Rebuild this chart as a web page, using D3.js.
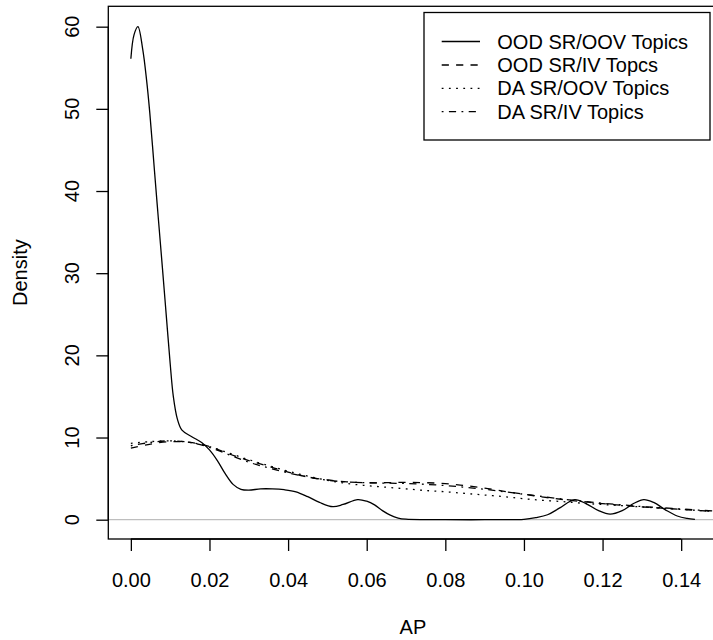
<!DOCTYPE html>
<html>
<head>
<meta charset="utf-8">
<script src="https://cdn.jsdelivr.net/npm/d3@7"></script>
<style>
html,body{margin:0;padding:0;background:#fff;}
svg{display:block;}
text{font-family:"Liberation Sans",Arial,Helvetica,sans-serif;fill:#000;}
</style>
</head>
<body>
<svg id="chart" width="713" height="640"></svg>
<script>
// ---- data ----
const xTicks = [0, 0.02, 0.04, 0.06, 0.08, 0.10, 0.12, 0.14];
const xTickLabels = ["0.00","0.02","0.04","0.06","0.08","0.10","0.12","0.14"];
const yTicks = [0, 10, 20, 30, 40, 50, 60];
const yTickLabels = ["0","10","20","30","40","50","60"];

const seriesNames = ["OOD SR/OOV Topics", "OOD SR/IV Topcs", "DA SR/OOV Topics", "DA SR/IV Topics"];

const oodOovX = [0, 0.0008, 0.0018, 0.003, 0.004, 0.0048, 0.006, 0.007, 0.008, 0.009, 0.010, 0.0108, 0.0118, 0.013, 0.0155, 0.018, 0.020, 0.022, 0.024, 0.026, 0.028, 0.030, 0.033, 0.036, 0.039, 0.042, 0.045, 0.048, 0.0514, 0.054, 0.0577, 0.060, 0.062, 0.064, 0.066, 0.068, 0.070, 0.075, 0.080, 0.090, 0.100, 0.103, 0.106, 0.109, 0.1129, 0.116, 0.119, 0.1219, 0.125, 0.128, 0.1305, 0.133, 0.136, 0.139, 0.1415, 0.1435];
const oodOovY = [56.1, 59.0, 60.0, 57.3, 53.5, 49.6, 42.5, 36.6, 30.8, 24.9, 19.0, 15.0, 12.3, 10.9, 10.1, 9.4, 8.5, 7.2, 5.6, 4.3, 3.7, 3.6, 3.75, 3.75, 3.65, 3.4, 2.8, 2.1, 1.58, 1.85, 2.45, 2.25, 1.8, 1.1, 0.55, 0.2, 0.06, 0.01, 0, 0, 0.05, 0.25, 0.6, 1.4, 2.45, 1.9, 1.1, 0.68, 1.1, 2.0, 2.45, 2.1, 1.2, 0.45, 0.15, 0.03];

const bundleX = [0, 0.005, 0.01, 0.015, 0.02, 0.025, 0.03, 0.035, 0.04, 0.045, 0.05, 0.055, 0.06, 0.065, 0.07, 0.075, 0.08, 0.085, 0.09, 0.095, 0.10, 0.105, 0.11, 0.115, 0.12, 0.125, 0.13, 0.135, 0.14, 0.145, 0.15];
const oodIvY = [8.7, 9.2, 9.5, 9.4, 8.9, 8.0, 7.2, 6.5, 5.8, 5.2, 4.85, 4.6, 4.5, 4.5, 4.55, 4.5, 4.4, 4.15, 3.85, 3.45, 3.1, 2.75, 2.45, 2.2, 1.95, 1.75, 1.55, 1.4, 1.25, 1.1, 0.95];
const daOovY = [9.3, 9.5, 9.6, 9.4, 8.9, 8.1, 7.3, 6.6, 5.9, 5.3, 4.8, 4.4, 4.15, 3.95, 3.75, 3.55, 3.4, 3.2, 3.0, 2.8, 2.55, 2.35, 2.2, 2.0, 1.85, 1.7, 1.55, 1.4, 1.25, 1.1, 0.95];
const daIvY = [9.0, 9.4, 9.6, 9.4, 8.8, 7.9, 7.0, 6.3, 5.7, 5.2, 4.8, 4.6, 4.5, 4.45, 4.4, 4.3, 4.15, 3.95, 3.7, 3.4, 3.1, 2.8, 2.5, 2.25, 2.0, 1.8, 1.6, 1.45, 1.3, 1.15, 1.0];

(function () {
// ---- layout ----
const svg = d3.select("#chart");
const pLeft = 108.3, pRight = 717.5, pTop = 6.3, pBottom = 539;
const fontSize = 20;

const x = d3.scaleLinear().domain([-0.00574, 0.14924]).range([pLeft, pRight]);
const y = d3.scaleLinear().domain([-2.35, 62.48]).range([pBottom, pTop]);

svg.append("defs").append("clipPath").attr("id","plotclip")
  .append("rect").attr("x", pLeft).attr("y", pTop).attr("width", pRight-pLeft).attr("height", pBottom-pTop);

const plot = svg.append("g").attr("clip-path","url(#plotclip)");

// zero reference line
plot.append("line")
  .attr("x1", pLeft).attr("x2", pRight)
  .attr("y1", y(0)).attr("y2", y(0))
  .attr("stroke", "#bebebe").attr("stroke-width", 1.3);

const line = d3.line().x(d => x(d[0])).y(d => y(d[1])).curve(d3.curveCatmullRom.alpha(0.5));
const zip = (xs, ys) => xs.map((v, i) => [v, ys[i]]);

const dashes = [null, "7.2,7.2", "1.8,5.4", "1.8,5.4,7.2,5.4"];
const seriesData = [zip(oodOovX, oodOovY), zip(bundleX, oodIvY), zip(bundleX, daOovY), zip(bundleX, daIvY)];

seriesData.forEach((data, i) => {
  plot.append("path")
    .datum(data)
    .attr("d", line)
    .attr("fill", "none")
    .attr("stroke", "#000")
    .attr("stroke-width", 1.3)
    .attr("stroke-dasharray", dashes[i]);
});

// box
svg.append("rect")
  .attr("x", pLeft).attr("y", pTop).attr("width", pRight-pLeft).attr("height", pBottom-pTop)
  .attr("fill", "none").attr("stroke", "#000").attr("stroke-width", 1.3);

// x axis
const xAxis = d3.axisBottom(x).tickValues(xTicks)
  .tickFormat((d, i) => xTickLabels[i]).tickSize(12).tickPadding(22);
const gx = svg.append("g").attr("transform", `translate(0,${pBottom})`).call(xAxis);
gx.select(".domain").attr("d", `M${x(xTicks[0])},0H${x(xTicks[xTicks.length-1])}`).attr("stroke-width",1.3);
gx.selectAll(".tick line").attr("stroke-width",1.3);
gx.selectAll("text").attr("font-size", fontSize).attr("font-family", '"Liberation Sans",Arial,sans-serif');

// y axis
const yAxis = d3.axisLeft(y).tickValues(yTicks).tickFormat("").tickSize(12);
const gy = svg.append("g").attr("transform", `translate(${pLeft},0)`).call(yAxis);
gy.select(".domain").attr("d", `M0,${y(yTicks[0])}V${y(yTicks[yTicks.length-1])}`).attr("stroke-width",1.3);
gy.selectAll(".tick line").attr("stroke-width",1.3);

svg.append("g").selectAll("text").data(yTicks).join("text")
  .attr("transform", d => `translate(79,${y(d)}) rotate(-90)`)
  .attr("text-anchor", "middle")
  .attr("font-size", fontSize)
  .text((d, i) => yTickLabels[i]);

// axis titles
svg.append("text").attr("x", (pLeft+pRight)/2).attr("y", 634)
  .attr("text-anchor","middle").attr("font-size", fontSize).text("AP");
svg.append("text").attr("transform", `translate(27,${(pTop+pBottom)/2}) rotate(-90)`)
  .attr("text-anchor","middle").attr("font-size", fontSize).text("Density");

// legend
const lg = svg.append("g");
lg.append("rect").attr("x", 424).attr("y", 12.5).attr("width", 286).attr("height", 127.5)
  .attr("fill", "#fff").attr("stroke", "#000").attr("stroke-width", 1.3);
const rowY = [41.5, 65, 88.3, 111.6];
seriesNames.forEach((name, i) => {
  lg.append("line").attr("x1", 441.7).attr("x2", 480)
    .attr("y1", rowY[i]).attr("y2", rowY[i])
    .attr("stroke", "#000").attr("stroke-width", 1.3)
    .attr("stroke-dasharray", dashes[i]);
  lg.append("text").attr("x", 497.3).attr("y", rowY[i] + 7)
    .attr("font-size", fontSize).text(name);
});
})();
</script>
</body>
</html>
